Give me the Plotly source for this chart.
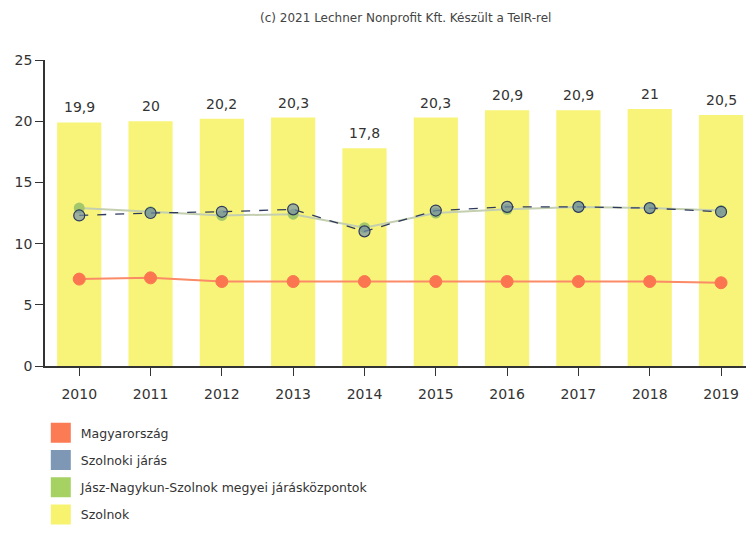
import plotly.graph_objects as go

years = ["2010", "2011", "2012", "2013", "2014", "2015", "2016", "2017", "2018", "2019"]
szolnok = [19.9, 20, 20.2, 20.3, 17.8, 20.3, 20.9, 20.9, 21, 20.5]
magyarorszag = [7.1, 7.2, 6.9, 6.9, 6.9, 6.9, 6.9, 6.9, 6.9, 6.8]
szolnoki_jaras = [12.3, 12.5, 12.6, 12.8, 11.0, 12.7, 13.0, 13.0, 12.9, 12.6]
jnsz_jarasközpontok = [12.9, 12.6, 12.3, 12.4, 11.3, 12.5, 12.8, 13.0, 12.9, 12.7]

names = ["Magyarország", "Szolnoki járás", "Jász-Nagykun-Szolnok megyei járásközpontok", "Szolnok"]
colors = ["#fb7b55", "#7d97b5", "#a6d163", "#f7f36e"]

fig = go.Figure()

fig.add_trace(go.Bar(
    x=years, y=szolnok, name=names[3], marker=dict(color="#f8f47a", line=dict(width=0)),
    width=0.62, showlegend=False,
))

fig.add_trace(go.Scatter(
    x=years, y=magyarorszag, mode="lines+markers", name=names[0], showlegend=False,
    line=dict(color="#fb8a66", width=2),
    marker=dict(color="#fb7550", size=12, line=dict(color="#fb7550", width=1)),
))
fig.add_trace(go.Scatter(
    x=years, y=jnsz_jarasközpontok, mode="lines+markers", name=names[2], showlegend=False,
    line=dict(color="#c4cfb0", width=2),
    marker=dict(color="#a3c76a", size=11, line=dict(width=0)),
))
fig.add_trace(go.Scatter(
    x=years, y=szolnoki_jaras, mode="lines+markers", name=names[1], showlegend=False,
    line=dict(color="#2e3a5c", width=1.3, dash="dash"),
    marker=dict(color="rgba(120,145,170,0.7)", size=11, line=dict(color="#2e3a5c", width=1.2)),
))

# legend entries
for i, (n, c) in enumerate(zip(names, colors)):
    fig.add_trace(go.Scatter(
        x=[None], y=[None], mode="markers", name=n, showlegend=True, legendgroup=str(i),
        marker=dict(symbol="square", color=c, size=20, line=dict(color=c, width=4)),
    ))

# value labels above the bars (category index positions)
annotations = [
    dict(x=i, y=v, xref="x", yref="y", text=str(v).replace(".", ","),
         showarrow=False, yshift=15, yanchor="middle", xanchor="center",
         font=dict(family="DejaVu Sans", size=14, color="#333333"))
    for i, v in enumerate(szolnok)
]
annotations.append(dict(
    text="(c) 2021 Lechner Nonprofit Kft. Készült a TeIR-rel",
    xref="paper", yref="paper", x=(405 - 45) / 701, y=(366 - 18) / 306,
    xanchor="center", yanchor="middle", showarrow=False,
    font=dict(family="DejaVu Sans", size=12, color="#444444"),
))

fig.update_layout(
    width=746, height=533,
    margin=dict(l=45, r=0, t=60, b=167, autoexpand=False),
    plot_bgcolor="white", paper_bgcolor="white",
    separators=",.",
    font=dict(family="DejaVu Sans", size=13, color="#333333"),
    xaxis=dict(
        type="category", range=[-0.48, 9.35], showgrid=False, automargin=False,
        showline=True, linecolor="#333333", linewidth=1.5,
        ticks="outside", ticklen=8, tickcolor="#333333", ticklabelstandoff=6,
        tickfont=dict(family="DejaVu Sans", size=14, color="#333333"),
    ),
    yaxis=dict(
        range=[0, 25], tickvals=[0, 5, 10, 15, 20, 25], showgrid=False, zeroline=False,
        automargin=False,
        showline=True, linecolor="#333333", linewidth=1.5,
        ticks="outside", ticklen=8, tickcolor="#333333",
        tickfont=dict(family="DejaVu Sans", size=14, color="#333333"),
    ),
    legend=dict(
        x=-0.006, xanchor="left", y=-0.17, yanchor="top",
        font=dict(family="DejaVu Sans", size=12.5, color="#333333"),
        itemsizing="trace", tracegroupgap=8, bgcolor="rgba(0,0,0,0)",
    ),
    annotations=annotations,
)

fig.write_html("out.html", config={"displayModeBar": False},
               post_script="document.body.style.margin='0';")
